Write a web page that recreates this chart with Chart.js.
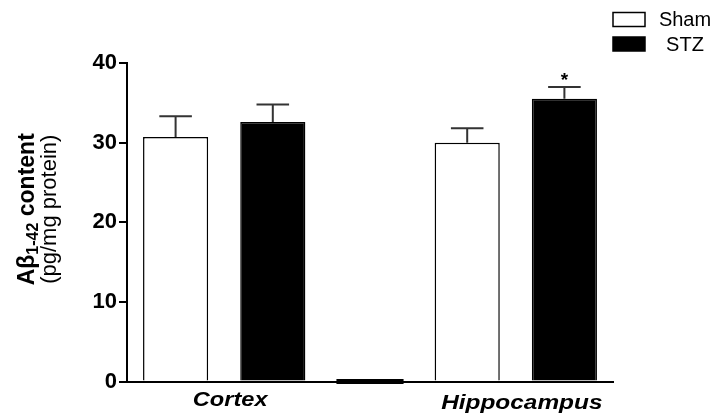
<!DOCTYPE html>
<html><head><meta charset="utf-8">
<script src="https://cdn.jsdelivr.net/npm/chart.js@4.4.1/dist/chart.umd.min.js"></script>
<style>html,body{margin:0;padding:0;background:#fff;}</style>
</head><body>
<canvas id="c" width="718" height="416"></canvas>
<script>
// ---- data ----
const regions = ['Cortex', 'Hippocampus'];
const groups = ['Sham', 'STZ'];
const shamMean = [30.7, 30.0];
const stzMean = [32.6, 35.5];
const shamSem = [2.6, 1.8];
const stzSem = [2.2, 1.5];
const stzSignificant = [false, true];
const yTicks = [0, 10, 20, 30, 40];
const yTitleMain = 'Aβ';
const yTitleSub = '1-42';
const yTitleRest = ' content';
const yUnit = '(pg/mg protein)';

// slots: Sham-Cortex, STZ-Cortex, spacer, Sham-Hippocampus, STZ-Hippocampus
const slots = ['Sham Cortex', 'STZ Cortex', '', 'Sham Hippocampus', 'STZ Hippocampus'];
const spacerIndex = 2;
const shamData = [shamMean[0], null, null, shamMean[1], null];
const stzData = [null, stzMean[0], null, null, stzMean[1]];
const shamErr = [shamSem[0], null, null, shamSem[1], null];
const stzErr = [null, stzSem[0], null, null, stzSem[1]];
const stzStars = [null, stzSignificant[0], null, null, stzSignificant[1]];
const regionSlots = [[0, 1], [3, 4]];

const FONT = '"Liberation Sans", Arial, Helvetica, sans-serif';

const deco = {
  id: 'deco',
  afterDatasetsDraw(chart) {
    const ctx = chart.ctx, y = chart.scales.y;
    chart.data.datasets.forEach((ds, di) => {
      const meta = chart.getDatasetMeta(di);
      ds.data.forEach((v, i) => {
        const e = ds.errors[i];
        if (v == null || e == null) return;
        const bar = meta.data[i];
        const top = y.getPixelForValue(v + e);
        const cw = bar.width * 0.5;
        ctx.save();
        ctx.strokeStyle = '#333';
        ctx.lineWidth = 2;
        ctx.beginPath();
        ctx.moveTo(bar.x, bar.y);
        ctx.lineTo(bar.x, top);
        ctx.moveTo(bar.x - cw / 2, top);
        ctx.lineTo(bar.x + cw / 2, top);
        ctx.stroke();
        if (ds.stars && ds.stars[i]) {
          ctx.fillStyle = '#000';
          ctx.font = 'bold 19px ' + FONT;
          ctx.textAlign = 'center';
          ctx.textBaseline = 'alphabetic';
          ctx.fillText('*', bar.x, top - 1);
        }
        ctx.restore();
      });
    });
  },
  afterDraw(chart) {
    const ctx = chart.ctx, x = chart.scales.x, y = chart.scales.y;
    const bw = chart.getDatasetMeta(0).data[0].width;
    // spacer bar at zero
    ctx.save();
    ctx.fillStyle = '#000';
    const sx = x.getPixelForValue(spacerIndex);
    ctx.fillRect(sx - bw / 2 - 1, y.getPixelForValue(0) - 2.5, bw + 2, 5);
    ctx.restore();

    // region labels
    const labelDrop = [24, 27];
    const labelStretch = [1.18, 1.22];
    regions.forEach((r, k) => {
      const cx = (x.getPixelForValue(regionSlots[k][0]) + x.getPixelForValue(regionSlots[k][1])) / 2 + 6;
      ctx.save();
      ctx.translate(cx, y.bottom + labelDrop[k]);
      ctx.scale(labelStretch[k], 1);
      ctx.font = 'italic bold 20px ' + FONT;
      ctx.fillStyle = '#000';
      ctx.textAlign = 'center';
      ctx.textBaseline = 'alphabetic';
      ctx.fillText(r, 0, 0);
      ctx.restore();
    });

    // legend
    const lx = chart.width - 105;
    const rows = [19.5, 44];
    chart.data.datasets.forEach((ds, i) => {
      ctx.save();
      ctx.fillStyle = ds.backgroundColor;
      ctx.strokeStyle = '#000';
      ctx.lineWidth = 1.5;
      ctx.fillRect(lx, rows[i] - 7, 32, 14);
      ctx.strokeRect(lx, rows[i] - 7, 32, 14);
      ctx.fillStyle = '#000';
      ctx.font = '20px ' + FONT;
      ctx.textAlign = 'center';
      ctx.textBaseline = 'middle';
      ctx.fillText(ds.label, lx + 72, rows[i] + 1);
      ctx.restore();
    });

    // y-axis title
    const cy = (y.top + y.bottom) / 2 - 13;
    ctx.save();
    ctx.fillStyle = '#000';
    ctx.translate(34, cy);
    ctx.rotate(-Math.PI / 2);
    ctx.textBaseline = 'alphabetic';
    ctx.textAlign = 'left';
    const fMain = 'bold 23px ' + FONT, fSub = 'bold 16px ' + FONT;
    ctx.font = fMain; const w1 = ctx.measureText(yTitleMain).width, w3 = ctx.measureText(yTitleRest).width;
    ctx.font = fSub; const w2 = ctx.measureText(yTitleSub).width;
    let px = -(w1 + w2 + w3) / 2;
    ctx.font = fMain; ctx.fillText(yTitleMain, px, 0); px += w1;
    ctx.font = fSub; ctx.fillText(yTitleSub, px, 4); px += w2;
    ctx.font = fMain; ctx.fillText(yTitleRest, px, 0);
    ctx.restore();
    ctx.save();
    ctx.fillStyle = '#000';
    ctx.translate(56, cy);
    ctx.rotate(-Math.PI / 2);
    ctx.font = '22px ' + FONT;
    ctx.textAlign = 'center';
    ctx.textBaseline = 'alphabetic';
    ctx.fillText(yUnit, 0, 0);
    ctx.restore();
  }
};

new Chart(document.getElementById('c'), {
  type: 'bar',
  data: {
    labels: slots,
    datasets: [
      { label: groups[0], data: shamData, errors: shamErr, backgroundColor: '#ffffff', borderColor: '#000', borderWidth: 1.5,
        categoryPercentage: 1, barPercentage: 0.67, skipNull: true },
      { label: groups[1], data: stzData, errors: stzErr, stars: stzStars, backgroundColor: '#000000', borderColor: '#000', borderWidth: 1.5,
        categoryPercentage: 1, barPercentage: 0.67, skipNull: true }
    ]
  },
  options: {
    responsive: false,
    animation: false,
    devicePixelRatio: 1,
    layout: { padding: { left: 0, right: 105, top: 63, bottom: 0 } },
    plugins: { legend: { display: false }, tooltip: { enabled: false } },
    scales: {
      x: {
        offset: true,
        grid: { display: false },
        border: { display: true, color: '#000', width: 2 },
        ticks: { display: false },
        afterFit(s) { s.height = 34.5; }
      },
      y: {
        min: yTicks[0], max: yTicks[yTicks.length - 1],
        afterBuildTicks(s) { s.ticks = yTicks.map(v => ({ value: v })); },
        ticks: { color: '#000', font: { family: FONT, size: 22, weight: 'bold' }, padding: 2 },
        grid: { drawOnChartArea: false, drawTicks: true, tickLength: 8, color: '#000', lineWidth: 2 },
        border: { color: '#000', width: 2 },
        afterFit(s) { s.width = 127; }
      }
    }
  },
  plugins: [deco]
});
</script>
</body></html>
